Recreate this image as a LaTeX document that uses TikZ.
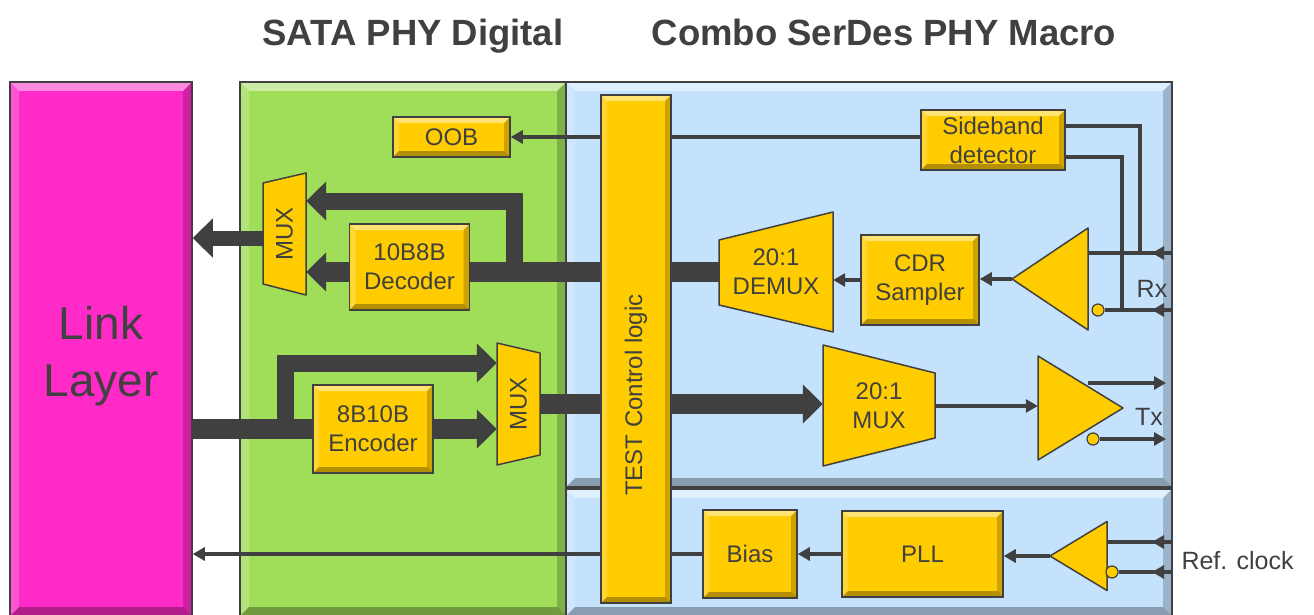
\documentclass[tikz,border=0pt]{standalone}
\usepackage{fontspec}
\setmainfont{Liberation Sans}
\usetikzlibrary{arrows.meta,calc}

\definecolor{edge}{HTML}{404040}
\definecolor{gold}{HTML}{FFCC00}
\definecolor{pink}{HTML}{FF2AC8}
\definecolor{leaf}{HTML}{A0DE5A}
\definecolor{sky}{HTML}{C4E2FC}

\tikzset{
  bevel/.style={path picture={
    \path (path picture bounding box.north west) coordinate (pa)
          (path picture bounding box.north east) coordinate (pb)
          (path picture bounding box.south east) coordinate (pc)
          (path picture bounding box.south west) coordinate (pd);
    \fill[white,opacity=.45] (pa) -- (pb) -- ([shift={(-#1,-#1)}]pb) -- ([shift={(#1,-#1)}]pa) -- cycle;
    \fill[white,opacity=.2] (pa) -- ([shift={(#1,-#1)}]pa) -- ([shift={(#1,#1)}]pd) -- (pd) -- cycle;
    \fill[black,opacity=.3] (pd) -- ([shift={(#1,#1)}]pd) -- ([shift={(-#1,#1)}]pc) -- (pc) -- cycle;
    \fill[black,opacity=.2] (pb) -- ([shift={(-#1,-#1)}]pb) -- ([shift={(-#1,#1)}]pc) -- (pc) -- cycle;
  }},
  bevel/.default=6pt,
  panel/.style={draw=edge, line width=1.5pt, inner sep=0pt, bevel=9pt},
  blk/.style={draw=edge, line width=1.5pt, fill=gold, inner sep=0pt, align=center, bevel},
  holder/.style={inner sep=0pt, align=center},
  trap/.style={draw=edge, line width=1.5pt, fill=gold, line join=round},
  bubble/.style={circle, draw=edge, line width=1.2pt, fill=gold, minimum size=12pt, inner sep=0pt},
  wire/.style={draw=edge, line width=3.5pt, >={Triangle[length=12pt,width=13pt]}},
  bus/.style={draw=edge, line width=20pt, line join=miter, >={Triangle[length=20pt,width=38pt]}},
  label/.style={font=\fontsize{25}{30}\selectfont},
  title/.style={font=\bfseries\fontsize{36.5}{40}\selectfont, anchor=base},
}

\begin{document}
\begin{tikzpicture}[x=1pt,y=-1pt,font=\fontsize{24}{29}\selectfont,text=edge]
\useasboundingbox (0,0) rectangle (1314,615);

% Panels
\node[panel,fill=pink,minimum width=182,minimum height=534,align=center,
      font=\fontsize{46}{57}\selectfont] (link) at (101,349) {};
\node (linklbl) at (101,356) [align=center,font=\fontsize{46}{57}\selectfont] {Link\\Layer};
\node[panel,fill=leaf,minimum width=326,minimum height=534] (sata) at (403,349) {};
\node[panel,fill=sky,minimum width=606,minimum height=405] (combo) at (869,284.5) {};
\node[panel,fill=sky,minimum width=606,minimum height=127] (combolow) at (869,552.5) {};

% Titles
\node[title] (satattl) at (413,46) {SATA PHY Digital};
\node[title] (combottl) at (884,46) {Combo SerDes PHY Macro};

% Blocks
\node[blk,minimum width=117,minimum height=40] (oob) at (451.5,137) {OOB};
\node[blk,minimum width=144,minimum height=60] (sb) at (993,140) {Sideband\\detector};
\node[blk,minimum width=120,minimum height=86] (dec) at (409.5,267) {10B8B\\Decoder};
\node[blk,minimum width=120,minimum height=88] (enc) at (373,429) {8B10B\\Encoder};
\node[blk,minimum width=118,minimum height=90] (cdr) at (920,280) {CDR\\Sampler};
\node[blk,minimum width=94,minimum height=88] (bias) at (750,554) {Bias};
\node[blk,minimum width=161,minimum height=86] (pll) at (922.5,554) {PLL};

% Muxes
\filldraw[trap,shift={(284.5,234)}] (-21.5,-51) -- (21.5,-61) -- (21.5,61) -- (-21.5,50) -- cycle;
\node[holder,minimum width=43,minimum height=122] (rxmux) at (284.5,234) {\rotatebox{90}{MUX}};
\filldraw[trap,shift={(518.5,404)}] (-21.5,-61) -- (21.5,-51) -- (21.5,51) -- (-21.5,61) -- cycle;
\node[holder,minimum width=43,minimum height=122] (txmux) at (518.5,404) {\rotatebox{90}{MUX}};
\filldraw[trap,shift={(776,272)}] (-57,-32) -- (57,-60) -- (57,60) -- (-57,33) -- cycle;
\node[holder,minimum width=114,minimum height=120] (demux) at (776,272) {20:1\\DEMUX};
\filldraw[trap,shift={(879,406)}] (-56,-61) -- (56,-33) -- (56,32) -- (-56,60) -- cycle;
\node[holder,minimum width=112,minimum height=121] (mux20) at (879,406) {20:1\\MUX};

% Amplifiers
\filldraw[trap,shift={(1050,279)}] (38,-51) -- (38,51) -- (-38,0) -- cycle;
\node[holder,minimum width=76,minimum height=102] (rxamp) at (1050,279) {};
\filldraw[trap,shift={(1080.5,408)}] (-42.5,-52) -- (42.5,0) -- (-42.5,52) -- cycle;
\node[holder,minimum width=85,minimum height=104] (txdrv) at (1080.5,408) {};
\filldraw[trap,shift={(1078.5,556)}] (28.5,-34.5) -- (28.5,34.5) -- (-28.5,0) -- cycle;
\node[holder,minimum width=57,minimum height=69] (refamp) at (1078.5,556) {};

\node[bubble] (rxbub) at (1098,310) {};
\node[bubble] (txbub) at (1093,439) {};
\node[bubble] (refbub) at (1112,572) {};

% Pins
\coordinate (rxp) at (1172,253);
\coordinate (rxn) at (1172,310);
\coordinate (tap1) at (1140,253);
\coordinate (tap2) at (1122,310);
\coordinate (txpo) at (1088,383);
\coordinate (txp) at (1166,383);
\coordinate (refp) at (1172,542);
\coordinate (refn) at (1172,572);
\node[label] (rxlbl) at (1152,289) {Rx};
\node[label] (txlbl) at (1149,417) {Tx};
\node[label,anchor=west] (reflbl) at (1178,561) {Ref. clock};

% Rx path
\draw[wire] (rxp) -- (rxp -| rxamp.east);
\draw[wire,->] (rxp) -- ++(-20,0);
\draw[wire] (rxn) -- (rxbub.east);
\draw[wire,->] (rxn) -- ++(-20,0);
\draw[wire] ([yshift=14pt]sb.east) -| (tap1);
\draw[wire] ([yshift=-17pt]sb.east) -| (tap2);
\draw[wire,->] (oob.east -| sb.west) -- (oob.east);
\draw[wire,->] (rxamp.west) -- (rxamp.west -| cdr.east);
\draw[wire,->] (cdr.west) -- (cdr.west -| demux.east);

\coordinate (rxsplit) at (514,272);
\coordinate (rxtop) at (514,201);
\draw[bus] (demux.west) -- (demux.west -| dec.east);
\draw[bus,line width=17pt,->] (rxsplit) -- (rxtop) -- (rxtop -| rxmux.east);
\draw[bus,->] (demux.west -| dec.west) -- (demux.west -| rxmux.east);
\draw[bus,line width=15pt,->] ([yshift=-4pt]rxmux.west) -- ([yshift=-4pt]rxmux.west -| link.east);

% Tx path
\coordinate (txsplit) at (285,429);
\coordinate (txtop) at (285,363);
\draw[bus] (enc.west -| link.east) -- (enc.west);
\draw[bus,line width=17pt,->] (txsplit) -- (txtop) -- (txtop -| txmux.west);
\draw[bus,->] (enc.east) -- (enc.east -| txmux.west);
\draw[bus,->] (txmux.east) -- (txmux.east -| mux20.west);
\draw[wire,->] (mux20.east) -- (mux20.east -| txdrv.west);
\draw[wire,->] (txpo) -- (txp);
\draw[wire,->] (txbub.east) -- (txbub.east -| txp);

% Clock path
\draw[wire] (refp) -- (refp -| refamp.east);
\draw[wire,->] (refp) -- ++(-20,0);
\draw[wire] (refn) -- (refbub.east);
\draw[wire,->] (refn) -- ++(-20,0);
\draw[wire,->] (refamp.west) -- (refamp.west -| pll.east);
\draw[wire,->] (pll.west) -- (pll.west -| bias.east);
\draw[wire,->] (bias.west) -- (bias.west -| link.east);

% Test bar on top
\node[blk,minimum width=70,minimum height=508] (test) at (636,349) {};
\node[rotate=90] (testlbl) at (636,395) {TEST Control logic};

\end{tikzpicture}
\end{document}
